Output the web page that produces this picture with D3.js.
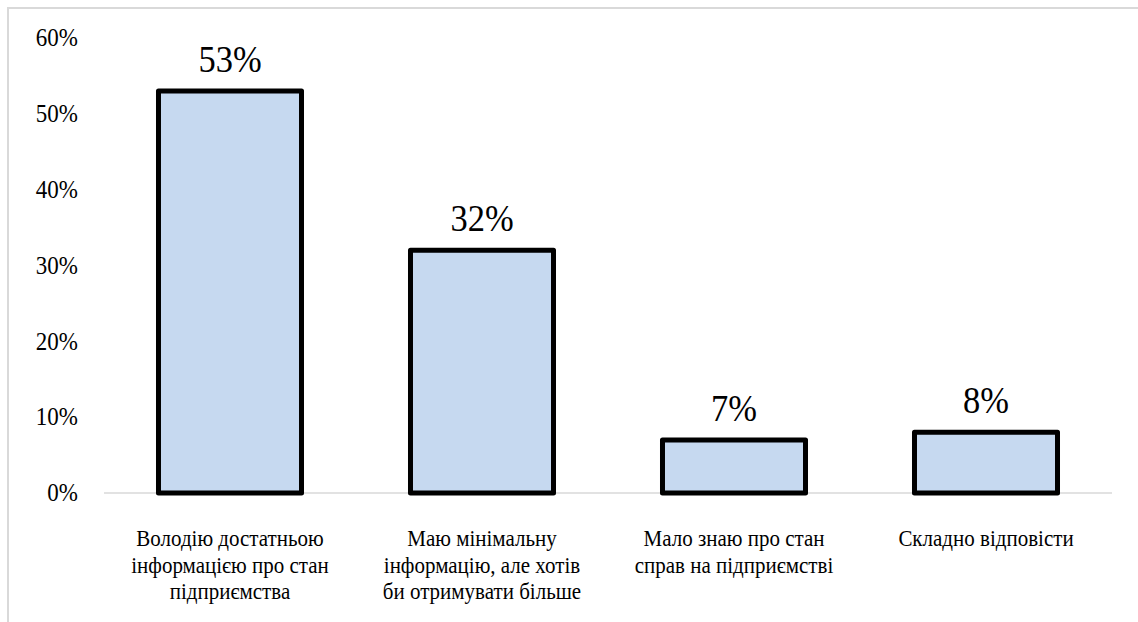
<!DOCTYPE html>
<html><head><meta charset="utf-8">
<script src="https://cdn.jsdelivr.net/npm/d3@7"></script>
</head><body style="margin:0">
<svg id="chart" width="1138" height="622" style="display:block"></svg>
<script>
const categories = [
  ["Володію достатньою", "інформацією про стан", "підприємства"],
  ["Маю мінімальну", "інформацію, але хотів", "би отримувати більше"],
  ["Мало знаю про стан", "справ на підприємстві"],
  ["Складно відповісти"]
];
const values = [53, 32, 7, 8];
const yTicks = [0, 10, 20, 30, 40, 50, 60];

const svg = d3.select("#chart");

const tickSize = 23;
const valSize = 34.5;
const catSize = 21;

// frame
svg.append("rect").attr("x", 8).attr("y", 8).attr("width", 1200).attr("height", 700)
  .attr("fill", "none").attr("stroke", "#d9d9d9").attr("stroke-width", 2);

const x = d3.scaleBand().domain(d3.range(values.length)).range([104, 1112]).paddingInner(0.4325).paddingOuter(0.21625);
const y = d3.scaleLinear().domain([0, 60]).range([493, 38]);

// y axis labels
const yAxis = d3.axisLeft(y).tickValues(yTicks).tickFormat(d => d + "%").tickSize(0).tickPadding(0);
const ya = svg.append("g").attr("transform", "translate(78,0)").call(yAxis);
ya.attr("font-family", null).attr("font-size", null);
ya.select(".domain").remove();
ya.selectAll(".tick text")
  .attr("x", 0).attr("y", 0).attr("dy", null)
  .attr("transform", `translate(0,${tickSize * 0.34}) scale(1,1.08)`)
  .attr("font-size", tickSize).attr("fill", "#000");

// x axis line
svg.append("line").attr("x1", 104).attr("x2", 1112).attr("y1", y(0)).attr("y2", y(0))
  .attr("stroke", "#d9d9d9").attr("stroke-width", 1.5);

// bars
svg.selectAll("rect.bar").data(values).join("rect").attr("class", "bar")
  .attr("x", (d, i) => x(i)).attr("width", x.bandwidth())
  .attr("y", d => y(d)).attr("height", d => y(0) - y(d))
  .attr("fill", "#c6d9f0").attr("stroke", "#000").attr("stroke-width", 5)
  .attr("stroke-linejoin", "round");

// data labels
svg.selectAll("text.val").data(values).join("text").attr("class", "val")
  .attr("transform", (d, i) => `translate(${x(i) + x.bandwidth() / 2},${y(d) - 19}) scale(1,1.12)`)
  .attr("text-anchor", "middle")
  .attr("font-size", valSize).attr("fill", "#000")
  .text(d => d + "%");

// category labels
const cat = svg.selectAll("g.cat").data(categories).join("g").attr("class", "cat")
  .attr("transform", (d, i) => `translate(${x(i) + x.bandwidth() / 2},546) scale(1,1.1)`);
cat.each(function(lines) {
  d3.select(this).selectAll("text").data(lines).join("text")
    .attr("x", 0).attr("y", (l, j) => j * 24.2)
    .attr("text-anchor", "middle")
    .attr("font-size", catSize).attr("fill", "#000")
    .text(l => l);
});
</script>
</body></html>
